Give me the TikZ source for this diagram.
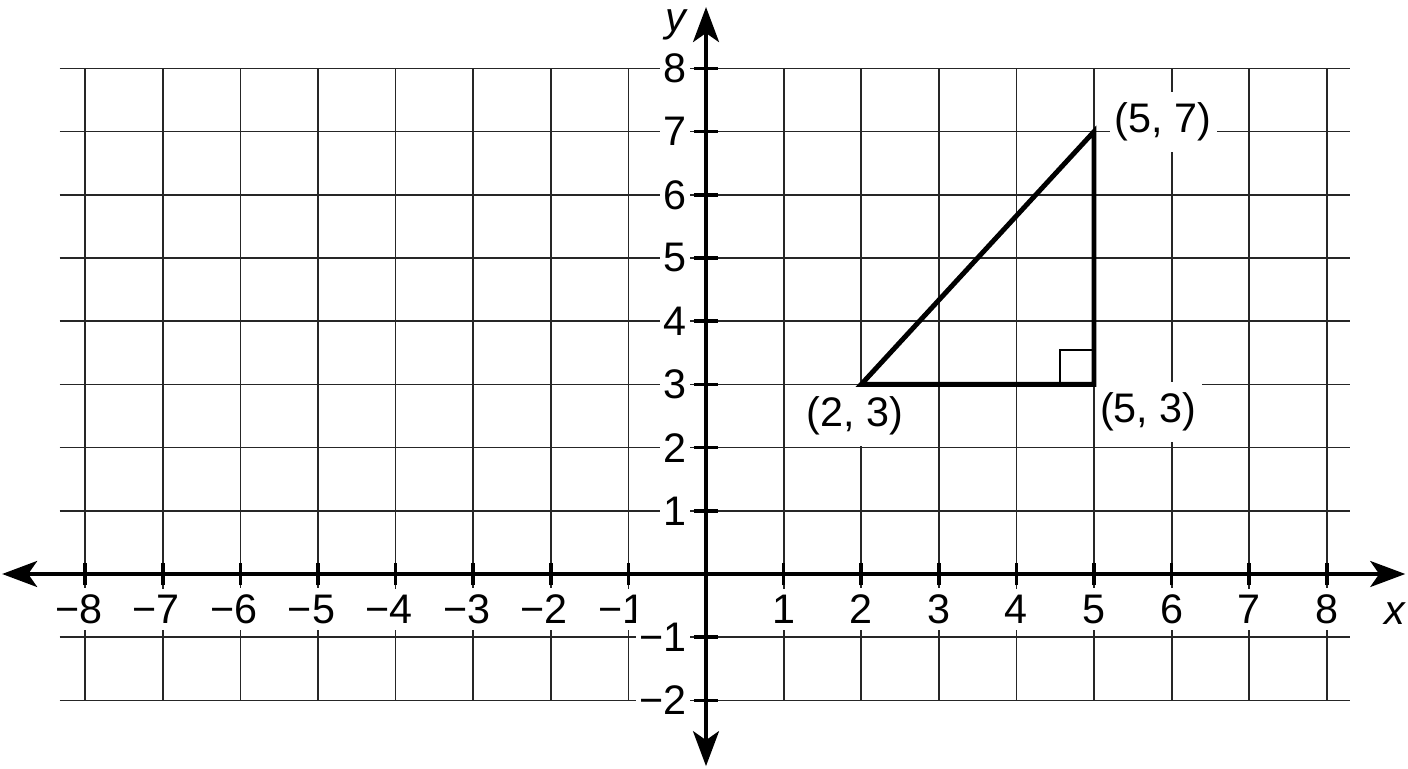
\documentclass[tikz,border=0pt]{standalone}
\usepackage{fontspec}
\setmainfont{Liberation Sans}
\usetikzlibrary{arrows.meta}
\begin{document}
\begin{tikzpicture}
    [
    x=1.552cm, y=1.264cm,
    gridline/.style={line width=1pt,black!85},
    axisline/.style={line width=2pt,{Stealth[length=7mm,width=5.2mm,inset=1.8mm]}-{Stealth[length=7mm,width=5.2mm,inset=1.8mm]}},
    axtick/.style={line width=2pt},
    numlabel/.style={fill=white,inner xsep=2pt,inner ysep=3.6pt,font=\fontsize{23.5}{28}\selectfont},
    ptlabel/.style={fill=white,inner xsep=3pt,inner ysep=6pt,font=\fontsize{23.5}{28}\selectfont},
    side/.style={line width=2.8pt,line join=miter},
    ]
    \useasboundingbox (-9.098,-3.070) rectangle (9.046,9.082);
    \foreach \j in {-2,...,8}
      \draw[gridline] (-8.33,\j) -- (8.30,\j);
    \foreach \i in {-8,...,-1,1,2,...,8}
      \draw[gridline] (\i,-2) -- (\i,8);
    \foreach \i in {1,...,8} {
      \node[numlabel] (xp\i) at (\i,-0.555) {\i};
      \node[numlabel,xshift=-1.3mm] (xn\i) at (-\i,-0.555) {−\i};
      \node[numlabel,anchor=east] (yp\i) at (-0.2,\i) {\i};
    }
    \foreach \i in {1,2}
      \node[numlabel,anchor=east] (yn\i) at (-0.2,-\i) {−\i};
    \node[ptlabel] (lA) at (1.92,2.50) {(2, 3)};
    \node[ptlabel] (lB) at (5.70,2.56) {(5, 3)};
    \node[ptlabel] (lC) at (5.89,7.15) {(5, 7)};
    \coordinate (A) at (2,3);
    \coordinate (B) at (5,3);
    \coordinate (C) at (5,7);
    \draw[side] (A) -- (B) -- (C) -- cycle;
    \draw[line width=1.2pt] ([xshift=-0.68cm]B) -- ++(0,0.68cm) -- ++(0.68cm,0);
    \foreach \i in {-8,...,-1,1,2,...,8}
      \draw[axtick] (\i,-0.18) -- (\i,0.18);
    \foreach \j in {-2,-1,1,2,...,8}
      \draw[axtick] (-0.155,\j) -- (0.155,\j);
    \coordinate (xl) at (-9.07,0);
    \coordinate (xr) at (9.01,0);
    \coordinate (yb) at (0,-3.04);
    \coordinate (yt) at (0,8.97);
    \draw[axisline] (xl) -- (xr);
    \draw[axisline] (yb) -- (yt);
    \node[font=\fontsize{23.5}{28}\selectfont\itshape] (xname) at (8.88,-0.62) {x};
    \node[font=\fontsize{23.5}{28}\selectfont\itshape] (yname) at (-0.39,8.69) {y};
\end{tikzpicture}
\end{document}
